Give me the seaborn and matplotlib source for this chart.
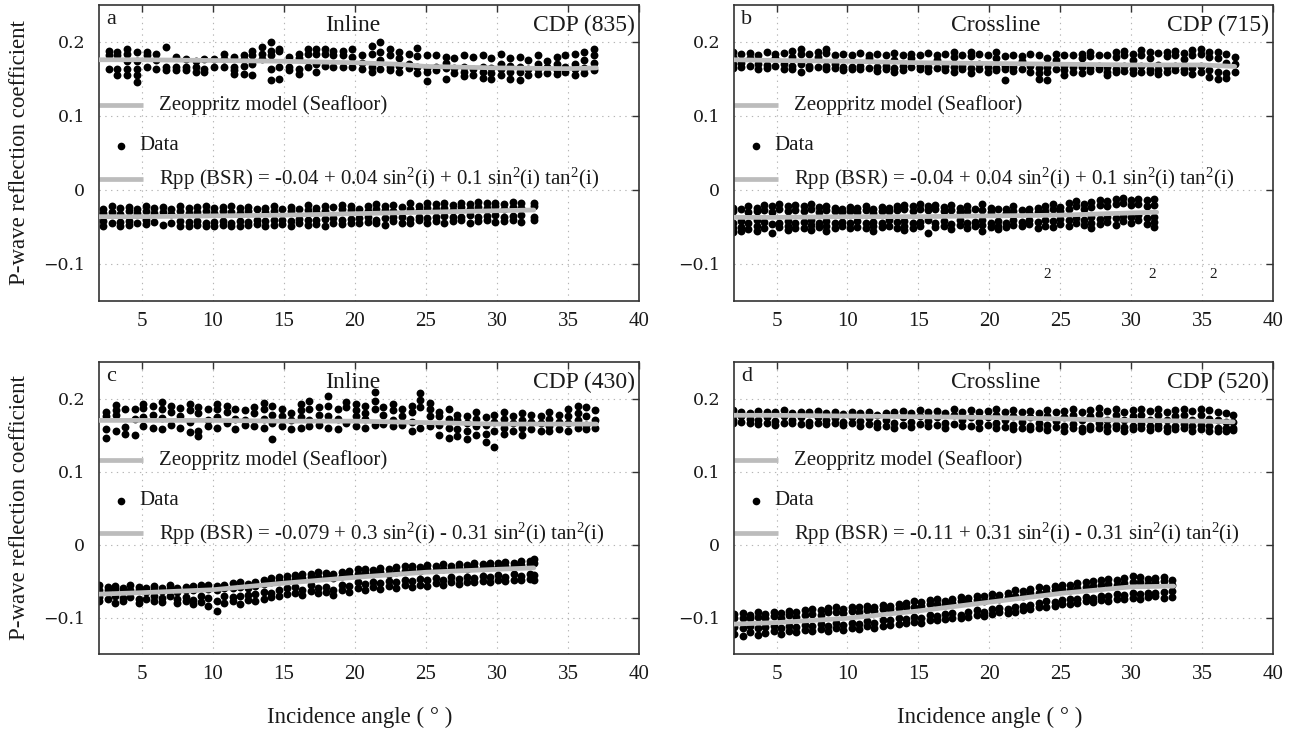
import matplotlib
matplotlib.use("Agg")
import matplotlib.pyplot as plt
import numpy as np
import pandas as pd
import seaborn as sns

# ---------------- data (values in thousandths) ----------------
# Panel a (Inline, CDP 835)
sea_a = [(2.7,[188,183,164]),(3.3,[187,182,164,155]),(4.0,[191,184,175,164,156]),(4.7,[187,175,164,156,146]),
         (5.4,[187,183,166]),(6.0,[184,176,164]),(6.7,[193,166,162]),(7.4,[180,166,162]),(8.1,[177,166,162]),
         (8.8,[175,166,160]),(9.4,[177,164,159]),(10.1,[177,166]),(10.8,[184,177,166]),(11.5,[180,166,162,157]),
         (12.2,[183,177,168,157]),(12.8,[188,182,170,155]),(13.5,[193,184,177]),(14.1,[200,188,182,164,148]),
         (14.7,[191,188,166,150]),(15.4,[180,166,162]),(16.1,[184,178,164,157]),(16.7,[190,184,166]),
         (17.3,[190,184,170,160]),(17.9,[190,184,168]),(18.5,[188,182,166]),(19.2,[188,182,166]),
         (19.8,[190,180,166]),(20.5,[182,172,164]),(21.2,[195,184,166,160]),(21.8,[200,186,176,164]),
         (22.5,[190,182,166,162]),(23.1,[186,178,168,160]),(23.8,[184,170,165]),(24.4,[192,181,166,158]),
         (25.1,[183,165,160,147]),(25.7,[182,166,162]),(26.4,[180,172,165,150]),(27.0,[178,165,158]),
         (27.7,[182,166,160,154]),(28.3,[180,164,156]),(29.0,[183,166,160,152]),(29.6,[178,165,158,150]),
         (30.3,[184,170,163,155]),(30.9,[178,168,160,150]),(31.6,[180,166,160,148]),(32.2,[176,164,156]),
         (32.9,[182,170,163,157]),(33.5,[175,166,158]),(34.2,[180,170,162,157]),(34.8,[182,166,160]),
         (35.5,[184,170,163,156]),(36.1,[186,176,165,158]),(36.8,[190,182,172,162])]
bsr_a = [(2.3,[-26,-31,-42,-49]),(2.9,[-22,-30,-45]),(3.5,[-24,-32,-43,-48]),(4.1,[-23,-29,-42,-47]),
         (4.7,[-25,-31,-44]),(5.3,[-22,-28,-41,-46]),(5.9,[-24,-31,-43]),(6.5,[-23,-30,-47]),(7.1,[-26,-33,-44]),
         (7.7,[-22,-29,-42,-48]),(8.3,[-24,-31,-43,-49]),(8.9,[-23,-30,-42,-47]),(9.5,[-22,-28,-44,-49]),
         (10.1,[-24,-31,-43,-48]),(10.7,[-23,-29,-42,-47]),(11.3,[-22,-30,-44,-49]),(11.9,[-24,-31,-42,-48]),
         (12.5,[-23,-29,-43,-47]),(13.1,[-25,-40,-46]),(13.7,[-24,-30,-42,-48]),(14.3,[-22,-29,-41,-47]),
         (14.9,[-26,-40,-46]),(15.5,[-23,-28,-42,-48]),(16.1,[-25,-39,-45]),(16.7,[-20,-27,-41,-47]),
         (17.3,[-24,-30,-40,-46]),(17.9,[-21,-28,-39,-49]),(18.5,[-23,-38,-45]),(19.1,[-20,-26,-40,-46]),
         (19.7,[-22,-27,-39,-44]),(20.3,[-25,-38,-44]),(20.9,[-21,-28,-37,-43]),(21.5,[-19,-26,-40,-45]),
         (22.1,[-22,-27,-38,-47]),(22.7,[-20,-28,-36,-42]),(23.3,[-23,-37,-44]),(23.9,[-18,-25,-39,-45]),
         (24.5,[-21,-27,-36,-41]),(25.1,[-17,-24,-38,-44]),(25.7,[-19,-26,-36,-42]),(26.3,[-18,-24,-35,-45]),
         (26.9,[-20,-27,-37,-42]),(27.5,[-17,-23,-36,-41]),(28.1,[-19,-25,-34,-44]),(28.7,[-16,-23,-37,-42]),
         (29.3,[-18,-24,-35,-41]),(29.9,[-17,-22,-34,-43]),(30.5,[-19,-25,-36,-42]),(31.1,[-16,-23,-35,-40]),
         (31.7,[-18,-24,-34,-43]),(32.6,[-17,-22,-36,-41])]
msea_a_x = [2, 5, 10, 15, 20, 23, 25, 30, 35, 37]
msea_a_y = [0.176, 0.176, 0.175, 0.174, 0.172, 0.170, 0.167, 0.165, 0.164, 0.165]
mbsr_a_x = [2, 5, 10, 15, 20, 25, 30, 32.6]
mbsr_a_y = [-0.036, -0.036, -0.035, -0.034, -0.032, -0.030, -0.028, -0.027]

# Panel b (Crossline, CDP 715)
sea_b = [(1.9,[186,180,170,165]),(2.5,[184,171,166]),(3.1,[185,178,168]),(3.7,[183,170,164]),(4.3,[186,169,165]),
         (4.9,[184,178,167]),(5.5,[185,170,164]),(6.1,[188,180,168,163]),(6.7,[191,184,170,160]),(7.3,[184,168,165]),
         (7.9,[186,180,166]),(8.5,[190,185,168,163]),(9.1,[183,170,165]),(9.7,[184,166,162]),(10.3,[182,166,163]),
         (10.9,[185,168,163]),(11.5,[183,178,165]),(12.1,[184,166,161]),(12.7,[182,168,164]),(13.3,[185,176,165,160]),
         (13.9,[183,167,162]),(14.5,[184,179,166]),(15.1,[182,168,163]),(15.7,[185,166,161]),(16.3,[183,176,165]),
         (16.9,[184,168,162]),(17.5,[186,180,166,160]),(18.1,[183,167,163]),(18.7,[187,181,165,158]),
         (19.3,[184,170,163]),(19.9,[182,166,160]),(20.5,[186,179,165,162]),(21.1,[181,168,163,149]),
         (21.7,[183,166,161]),(22.3,[181,175,164]),(22.9,[184,167,160]),(23.5,[182,165,158,150]),
         (24.1,[178,166,159,149]),(24.7,[184,176,163]),(25.3,[183,168,162,156]),(25.9,[182,166,160]),
         (26.5,[184,178,166,158]),(27.1,[187,181,165,161]),(27.7,[183,168,163]),(28.3,[182,166,160,155]),
         (28.9,[186,180,164,160]),(29.5,[188,182,167,161]),(30.1,[184,176,163,158]),(30.7,[189,183,167,160]),
         (31.3,[186,178,164,159]),(31.9,[185,169,162,157]),(32.5,[187,181,166,160]),(33.1,[188,183,168,162]),
         (33.7,[185,177,164,159]),(34.3,[189,182,165,157]),(34.9,[190,184,168,160]),(35.5,[187,180,162,153]),
         (36.1,[186,178,160,150]),(36.7,[184,172,158,152]),(37.3,[180,170,160])]
bsr_b = [(1.9,[-24,-29,-44,-52,-57]),(2.5,[-26,-42,-50,-56]),(3.0,[-22,-30,-45,-53]),(3.6,[-24,-28,-41,-49,-55]),
         (4.1,[-20,-27,-43,-51]),(4.7,[-22,-30,-46,-58]),(5.2,[-19,-26,-44,-50]),(5.8,[-21,-28,-42,-49,-54]),
         (6.3,[-20,-27,-45,-51]),(6.9,[-22,-29,-43,-52]),(7.4,[-19,-26,-41,-47,-54]),(8.0,[-23,-30,-44,-50]),
         (8.5,[-21,-27,-42,-48,-56]),(9.1,[-24,-29,-45,-51]),(9.6,[-25,-30,-43,-49]),(10.2,[-23,-28,-44,-52]),
         (10.7,[-24,-30,-42,-50]),(11.3,[-22,-27,-45,-51]),(11.8,[-25,-31,-43,-48,-55]),(12.4,[-23,-29,-44,-50]),
         (12.9,[-24,-28,-41,-49]),(13.5,[-21,-27,-43,-52]),(14.0,[-20,-26,-42,-48,-54]),(14.6,[-22,-28,-45,-51]),
         (15.1,[-19,-26,-43,-49]),(15.7,[-21,-27,-41,-58]),(16.2,[-20,-25,-44,-50]),(16.8,[-23,-29,-42,-48]),
         (17.3,[-20,-27,-46,-53]),(17.9,[-24,-30,-40,-47]),(18.4,[-22,-28,-44,-51]),(19.0,[-25,-43,-49]),
         (19.5,[-19,-27,-41,-47,-55]),(20.1,[-24,-30,-45,-50]),(20.6,[-26,-42,-48,-53]),(21.2,[-25,-31,-44,-50]),
         (21.7,[-22,-28,-40,-47]),(22.3,[-27,-43,-49]),(22.8,[-26,-31,-41,-46]),(23.4,[-24,-30,-43,-52]),
         (23.9,[-22,-28,-40,-48]),(24.5,[-19,-26,-42,-50]),(25.0,[-23,-29,-39,-46]),(25.6,[-18,-25,-41,-49]),
         (26.1,[-15,-22,-38,-45]),(26.7,[-19,-26,-40,-47]),(27.2,[-16,-23,-37,-44,-51]),(27.8,[-13,-20,-39,-46]),
         (28.3,[-15,-22,-36,-43]),(28.9,[-12,-19,-38,-47]),(29.4,[-11,-18,-35,-42]),(30.0,[-13,-20,-37,-44]),
         (30.5,[-12,-19,-34,-41]),(31.1,[-14,-21,-38,-46]),(31.6,[-12,-20,-36,-43,-50])]
msea_b_x = [2, 5, 10, 15, 20, 25, 30, 35, 37.3]
msea_b_y = [0.176, 0.175, 0.174, 0.172, 0.171, 0.170, 0.169, 0.169, 0.167]
mbsr_b_x = [2, 5, 10, 15, 20, 25, 30, 31.8]
mbsr_b_y = [-0.037, -0.037, -0.036, -0.036, -0.035, -0.034, -0.031, -0.030]

# Panel c (Inline, CDP 430)
sea_c = [(2.5,[182,176,158,146]),(3.2,[191,184,177,155]),(3.8,[186,161,152]),(4.5,[185,172,150]),
         (5.1,[193,187,175,163]),(5.8,[190,178,160]),(6.4,[195,186,173,158]),(7.1,[190,181,164]),
         (7.7,[187,176,160]),(8.4,[192,184,168,154]),(9.0,[189,180,155,148]),(9.7,[185,170,162]),
         (10.3,[193,186,174,160]),(11.0,[190,182,166]),(11.6,[186,172,158]),(12.3,[184,170,164]),
         (12.9,[188,180,162]),(13.6,[194,185,172,160]),(14.2,[190,178,166,145]),(14.9,[186,176,162]),
         (15.5,[180,170,158]),(16.2,[192,184,174,160]),(16.8,[196,186,170,162]),(17.5,[188,178,164]),
         (18.1,[204,190,176,160]),(18.8,[186,172,158]),(19.4,[195,188,166]),(20.1,[192,184,176,162]),
         (20.7,[190,180,172,160]),(21.4,[209,196,186,164]),(22.0,[188,178,165]),(22.7,[193,184,170,162]),
         (23.3,[186,176,164]),(24.0,[190,182,168,155]),(24.6,[207,198,188,160]),(25.3,[194,186,176,162]),
         (25.9,[182,176,164,150]),(26.6,[186,172,160,146]),(27.2,[178,170,158,148]),(27.9,[176,166,155,145]),
         (28.5,[182,172,162,150]),(29.2,[174,164,152,140]),(29.8,[178,168,156,134]),(30.5,[181,172,160,152]),
         (31.1,[176,166,156]),(31.8,[180,170,160,150]),(32.4,[178,168,158]),(33.1,[176,166,156]),
         (33.7,[182,172,162,155]),(34.4,[178,168,158]),(35.0,[186,176,166,156]),(35.7,[190,180,170,160]),
         (36.3,[188,176,164,158]),(36.9,[184,170,160])]
bsr_c = [(2.0,[-56,-62,-72,-77]),(2.6,[-58,-63,-74]),(3.1,[-57,-61,-70,-80]),(3.7,[-59,-64,-73,-78]),
         (4.2,[-55,-62,-72]),(4.8,[-58,-63,-75,-80]),(5.3,[-60,-65,-74]),(5.9,[-57,-62,-71,-77]),
         (6.4,[-59,-64,-73,-79]),(7.0,[-56,-61,-70]),(7.5,[-60,-65,-74,-80]),(8.1,[-58,-63,-72,-78]),
         (8.6,[-57,-62,-76,-82]),(9.2,[-55,-60,-71,-79]),(9.7,[-56,-61,-73,-84]),(10.3,[-57,-63,-77,-91]),
         (10.8,[-55,-60,-70,-80]),(11.4,[-53,-59,-72,-78]),(11.9,[-52,-58,-70,-82]),(12.5,[-54,-60,-69,-76]),
         (13.0,[-51,-57,-68,-77]),(13.6,[-48,-54,-65,-74]),(14.1,[-46,-52,-66,-72]),(14.7,[-45,-50,-62,-70]),
         (15.2,[-43,-48,-60,-68]),(15.8,[-42,-47,-58,-66]),(16.3,[-41,-46,-62,-69]),(16.9,[-40,-45,-56,-64]),
         (17.4,[-38,-44,-60,-67]),(18.0,[-39,-45,-58,-65]),(18.5,[-41,-46,-62,-69]),(19.1,[-37,-43,-55,-63]),
         (19.6,[-36,-42,-57,-65]),(20.2,[-34,-40,-52,-60]),(20.7,[-33,-39,-54,-62]),(21.3,[-35,-41,-51,-58]),
         (21.8,[-32,-38,-53,-61]),(22.4,[-33,-40,-50,-57]),(22.9,[-31,-37,-52,-59]),(23.5,[-30,-36,-48,-56]),
         (24.0,[-29,-35,-50,-58]),(24.6,[-31,-36,-47,-55]),(25.1,[-28,-34,-49,-57]),(25.7,[-30,-35,-46,-53]),
         (26.2,[-27,-33,-48,-55]),(26.8,[-29,-34,-45,-52]),(27.3,[-27,-32,-47,-54]),(27.9,[-28,-33,-44,-51]),
         (28.4,[-26,-31,-46,-52]),(29.0,[-27,-32,-43,-50]),(29.5,[-25,-30,-45,-51]),(30.1,[-26,-31,-42,-49]),
         (30.6,[-24,-29,-44,-50]),(31.2,[-25,-30,-41,-48]),(31.7,[-23,-28,-43,-49]),(32.3,[-22,-27,-40,-47]),
         (32.6,[-20,-26,-42,-48])]
msea_c_x = [2, 5, 10, 15, 20, 25, 30, 35, 37]
msea_c_y = [0.170, 0.170, 0.170, 0.169, 0.169, 0.167, 0.165, 0.165, 0.165]
mbsr_c_x = [2, 5, 10, 15, 20, 25, 30, 32.6]
mbsr_c_y = [-0.068, -0.066, -0.062, -0.053, -0.045, -0.038, -0.034, -0.032]

# Panel d (Crossline, CDP 520)
sea_d = [(1.9,[184,178,170,166]),(2.5,[182,176,168]),(3.1,[180,172,166]),(3.7,[183,170,165]),(4.3,[181,174,167]),
         (4.9,[182,169,164]),(5.5,[184,176,167]),(6.1,[180,170,166]),(6.7,[182,174,165]),(7.3,[181,168,164]),
         (7.9,[183,175,167]),(8.5,[180,170,165]),(9.1,[181,173,166]),(9.7,[179,168,164]),(10.3,[182,175,166]),
         (10.9,[180,169,163]),(11.5,[181,173,165]),(12.1,[178,166,161]),(12.7,[180,171,163]),(13.3,[182,167,160]),
         (13.9,[183,175,164]),(14.5,[180,168,161]),(15.1,[184,176,165]),(15.7,[181,169,162]),(16.3,[183,174,164]),
         (16.9,[180,167,160]),(17.5,[185,177,165]),(18.1,[182,170,162]),(18.7,[184,175,163]),(19.3,[181,168,160]),
         (19.9,[183,174,164]),(20.5,[186,178,166,160]),(21.1,[182,170,161]),(21.7,[184,176,164,158]),
         (22.3,[181,168,160]),(22.9,[183,175,163,158]),(23.5,[180,167,159]),(24.1,[184,176,164,157]),
         (24.7,[182,169,161]),(25.3,[183,174,162,156]),(25.9,[185,178,165,159]),(26.5,[182,170,160,155]),
         (27.1,[184,176,163,158]),(27.7,[187,179,166,160]),(28.3,[183,171,162,156]),(28.9,[185,177,164,159]),
         (29.5,[182,170,161,155]),(30.1,[184,176,163,158]),(30.7,[186,178,165,160]),(31.3,[183,171,162,157]),
         (31.9,[185,177,164,159]),(32.5,[182,170,161,156]),(33.1,[184,176,163,158]),(33.7,[186,178,165,159]),
         (34.3,[183,171,162,156]),(34.9,[185,177,164,158]),(35.5,[184,172,162,156]),(36.1,[182,170,160,155]),
         (36.7,[180,168,160,156]),(37.2,[178,168,160,157])]
bsr_d = [(2.0,[-95,-100,-113,-122]),(2.6,[-94,-101,-115,-125]),(3.1,[-96,-100,-112,-120]),(3.7,[-93,-99,-114,-124]),
         (4.2,[-95,-101,-113,-121]),(4.8,[-92,-98,-112,-119]),(5.3,[-94,-100,-115,-123]),(5.9,[-91,-97,-111,-118]),
         (6.4,[-93,-99,-113,-120]),(7.0,[-90,-96,-110,-117]),(7.5,[-88,-95,-112,-119]),(8.1,[-90,-97,-109,-116]),
         (8.6,[-87,-93,-111,-118]),(9.2,[-86,-92,-108,-115]),(9.7,[-88,-94,-110,-117]),(10.3,[-85,-91,-107,-114]),
         (10.8,[-86,-92,-109,-116]),(11.4,[-84,-90,-105,-112]),(11.9,[-85,-91,-107,-114]),(12.5,[-83,-89,-104,-111]),
         (13.0,[-84,-88,-103,-110]),(13.6,[-81,-87,-101,-109]),(14.1,[-80,-86,-102,-108]),(14.7,[-78,-85,-99,-106]),
         (15.2,[-79,-84,-100,-107]),(15.8,[-76,-82,-97,-104]),(16.3,[-75,-81,-98,-103]),(16.9,[-77,-83,-95,-102]),
         (17.4,[-74,-80,-94,-100]),(18.0,[-72,-78,-96,-101]),(18.5,[-73,-79,-92,-99]),(19.1,[-70,-76,-90,-97]),
         (19.6,[-71,-77,-92,-98]),(20.2,[-68,-74,-88,-95]),(20.7,[-69,-75,-87,-93]),(21.3,[-66,-72,-89,-94]),
         (21.8,[-62,-70,-85,-92]),(22.4,[-64,-71,-84,-90]),(22.9,[-61,-67,-83,-89]),(23.5,[-58,-66,-80,-86]),
         (24.0,[-60,-65,-78,-85]),(24.6,[-57,-63,-79,-84]),(25.1,[-55,-61,-76,-82]),(25.7,[-56,-62,-74,-81]),
         (26.2,[-53,-59,-75,-80]),(26.8,[-52,-58,-72,-78]),(27.3,[-50,-57,-73,-79]),(27.9,[-49,-55,-70,-76]),
         (28.4,[-47,-54,-71,-77]),(29.0,[-48,-55,-68,-74]),(29.5,[-46,-53,-69,-75]),(30.1,[-43,-51,-67,-73]),
         (30.6,[-45,-52,-68,-74]),(31.2,[-47,-54,-66,-72]),(31.7,[-46,-52,-67,-71]),(32.3,[-44,-50,-65,-73]),
         (32.9,[-48,-55,-64,-72])]
msea_d_x = [2, 5, 10, 15, 20, 25, 30, 35, 37.2]
msea_d_y = [0.177, 0.177, 0.176, 0.175, 0.174, 0.172, 0.170, 0.169, 0.168]
mbsr_d_x = [2, 5, 10, 15, 20, 25, 30, 33]
mbsr_d_y = [-0.109, -0.107, -0.101, -0.091, -0.079, -0.067, -0.058, -0.057]

letters = ["a", "b", "c", "d"]
directions = ["Inline", "Crossline", "Inline", "Crossline"]
cdps = ["CDP (835)", "CDP (715)", "CDP (430)", "CDP (520)"]
equations = [
    "Rpp (BSR) = -0.04 + 0.04 sin$^{2}$(i) + 0.1 sin$^{2}$(i) tan$^{2}$(i)",
    "Rpp (BSR) = -0.04 + 0.04 sin$^{2}$(i) + 0.1 sin$^{2}$(i) tan$^{2}$(i)",
    "Rpp (BSR) = -0.079 + 0.3 sin$^{2}$(i) - 0.31 sin$^{2}$(i) tan$^{2}$(i)",
    "Rpp (BSR) = -0.11 + 0.31 sin$^{2}$(i) - 0.31 sin$^{2}$(i) tan$^{2}$(i)",
]
xticks = [5, 10, 15, 20, 25, 30, 35, 40]
yticks = [-0.1, 0, 0.1, 0.2]
ytick_labels = ["\u22120.1", "0", "0.1", "0.2"]

# ---------------- style ----------------
sns.set_style("white")
plt.rcParams["font.family"] = ["Liberation Serif", "DejaVu Serif"]
plt.rcParams["mathtext.fontset"] = "custom"
plt.rcParams["mathtext.rm"] = "Liberation Serif"
plt.rcParams["mathtext.it"] = "Liberation Serif:italic"
plt.rcParams["axes.unicode_minus"] = True

MODEL = "#bcbcbc"
TXT = "#1a1a1a"


def to_df(cols):
    rows = [(ang, v / 1000.0) for ang, vals in cols for v in vals]
    return pd.DataFrame(rows, columns=["angle", "R"])


panels = [
    (sea_a, bsr_a, msea_a_x, msea_a_y, mbsr_a_x, mbsr_a_y),
    (sea_b, bsr_b, msea_b_x, msea_b_y, mbsr_b_x, mbsr_b_y),
    (sea_c, bsr_c, msea_c_x, msea_c_y, mbsr_c_x, mbsr_c_y),
    (sea_d, bsr_d, msea_d_x, msea_d_y, mbsr_d_x, mbsr_d_y),
]

W, H = 1298, 738
fig = plt.figure(figsize=(W / 100, H / 100), dpi=100)
boxes = [(99, 5, 639, 301), (734, 5, 1273, 301), (99, 362, 639, 654), (734, 362, 1273, 654)]

for i, (box, pdata) in enumerate(zip(boxes, panels)):
    x0, y0, x1, y1 = box
    ax = fig.add_axes([x0 / W, 1 - y1 / H, (x1 - x0) / W, (y1 - y0) / H])
    sea, bsr, mx1, my1, mx2, my2 = pdata
    df = pd.concat([to_df(sea), to_df(bsr)], ignore_index=True)
    sns.scatterplot(data=df, x="angle", y="R", ax=ax, color="black", s=32,
                    linewidth=0, zorder=2, legend=False)
    sns.lineplot(x=mx1, y=my1, ax=ax, color=MODEL, lw=3.4, zorder=3,
                 estimator=None, sort=False)
    sns.lineplot(x=mx2, y=my2, ax=ax, color=MODEL, lw=3.4, zorder=3,
                 estimator=None, sort=False)

    ax.set_xlim(2, 40)
    ax.set_ylim(-0.15, 0.25)
    ax.set_xticks(xticks)
    ax.set_xticklabels([str(t) for t in xticks], fontsize=15, color=TXT)
    ax.set_yticks(yticks)
    ax.set_yticklabels(ytick_labels, fontsize=12.5, color=TXT, family="DejaVu Serif")
    ax.tick_params(direction="in", top=True, right=True, length=5, width=1.0,
                   color="#333333")
    ax.tick_params(axis="x", pad=8)
    ax.tick_params(axis="y", pad=10)
    ax.grid(True, linestyle=(0, (1.2, 4)), color="#b5b5b5", lw=0.8)
    for sp in ax.spines.values():
        sp.set_color("#333333")
        sp.set_linewidth(1.2)

    # panel annotations
    ax.text(0.013, 0.95, letters[i], transform=ax.transAxes, fontsize=16,
            ha="left", va="center", color=TXT)
    ax.text(0.47 if i % 2 == 0 else 0.485, 0.93, directions[i], transform=ax.transAxes,
            fontsize=17, ha="center", va="center", color=TXT)
    ax.text(0.993, 0.93, cdps[i], transform=ax.transAxes, fontsize=17,
            ha="right", va="center", color=TXT)

    # legend-like entries
    ax.plot([0, 0.082], [0.663, 0.663], transform=ax.transAxes, color=MODEL,
            lw=3.4, solid_capstyle="butt", clip_on=False)
    ax.text(0.111, 0.663, "Zeoppritz model (Seafloor)", transform=ax.transAxes,
            fontsize=15, ha="left", va="center", color=TXT)
    ax.plot([0.041], [0.524], transform=ax.transAxes, marker="o", ms=5.5,
            color="black", mew=0, linestyle="none")
    ax.text(0.075, 0.524, "Data", transform=ax.transAxes, fontsize=15,
            ha="left", va="center", color=TXT)
    ax.plot([0, 0.082], [0.413, 0.413], transform=ax.transAxes, color=MODEL,
            lw=3.4, solid_capstyle="butt", clip_on=False)
    ax.text(0.111, 0.413, equations[i], transform=ax.transAxes, fontsize=15,
            ha="left", va="center", color=TXT)

    if i == 1:
        for xf in (0.581, 0.776, 0.889):
            ax.text(xf, 0.088, "2", transform=ax.transAxes, fontsize=11,
                    ha="center", va="center", color=TXT)

    ax.set_xlabel("")
    ax.set_ylabel("")
    if i % 2 == 0:
        ax.set_ylabel("P-wave reflection coefficient", fontsize=16.5, color=TXT)
        ax.yaxis.set_label_coords(-0.128, 0.5)
    if i >= 2:
        ax.set_xlabel("Incidence angle ( \u00b0 )", fontsize=16.5, color=TXT)
        ax.xaxis.set_label_coords(0.483 if i == 2 else 0.475, -0.18)

fig.savefig("out.png", dpi=100)
